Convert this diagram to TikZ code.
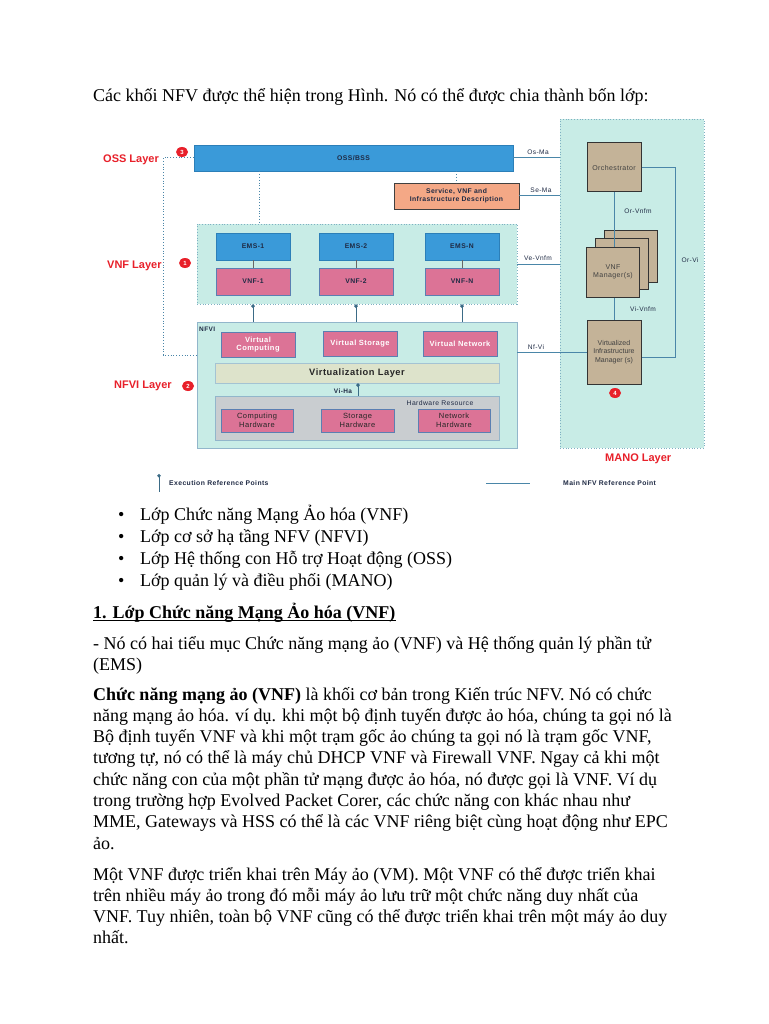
\documentclass[tikz,border=0pt]{standalone}
\usepackage{fontspec}
\setmainfont{Liberation Serif}
\newfontfamily\dsans{Liberation Sans}[LetterSpace=6]
\newfontfamily\dsansn{Liberation Sans}
\usetikzlibrary{shapes.geometric,arrows.meta}
\definecolor{bxblue}{HTML}{3A9AD9}
\definecolor{bxblueb}{HTML}{2C7FB8}
\definecolor{bxpink}{HTML}{DC7396}
\definecolor{bxpinkb}{HTML}{5B7FB2}
\definecolor{lteal}{HTML}{C8ECE6}
\definecolor{ltealb}{HTML}{7FB0C2}
\definecolor{vlfill}{HTML}{DDE3CB}
\definecolor{hwfill}{HTML}{C9CDD0}
\definecolor{bxtan}{HTML}{C4B398}
\definecolor{svcfill}{HTML}{F4A886}
\definecolor{lnblue}{HTML}{4A86A8}
\definecolor{lred}{HTML}{E8202A}
\definecolor{dtxt}{HTML}{1F2A44}
\tikzset{
  box/.style={draw, line width=0.8pt, inner sep=1pt, align=center, text=dtxt,
    font=\dsans\fontsize{6.5}{7.5}\selectfont},
  emsbox/.style={box, fill=bxblue, draw=bxblueb, font=\dsans\bfseries\fontsize{6.8}{7.5}\selectfont},
  vnfbox/.style={box, fill=bxpink, draw=bxpinkb, font=\dsans\bfseries\fontsize{6.8}{7.5}\selectfont},
  vresbox/.style={box, fill=bxpink, draw=bxpinkb, text=white, font=\dsans\bfseries\fontsize{7.5}{8.5}\selectfont},
  hwbox/.style={box, fill=bxpink, draw=bxpinkb, text=black!85, font=\dsans\fontsize{7.5}{8.5}\selectfont},
  tanbox/.style={box, fill=bxtan, draw=black!80, line width=1pt, text=black!75, font=\dsans\fontsize{7}{8.5}\selectfont},
  layerlbl/.style={text=lred, inner sep=0, anchor=west, font=\dsansn\bfseries\fontsize{11}{12}\selectfont},
  badge/.style={ellipse, fill=lred, text=white, inner sep=0, minimum width=12pt, minimum height=10pt,
    font=\dsansn\bfseries\fontsize{6}{6}\selectfont},
  ifl/.style={draw=lnblue, line width=1pt},
  thinl/.style={draw=black!60, line width=0.6pt},
  refl/.style={inner sep=0, text=dtxt, font=\dsans\fontsize{6.6}{7.5}\selectfont},
  legl/.style={inner sep=0, anchor=west, text=dtxt, font=\dsans\bfseries\fontsize{6.8}{7.5}\selectfont},
  dotl/.style={draw=lnblue, dash pattern=on 1pt off 1.8pt, line width=1pt},
  execl/.style={draw=lnblue!80!black, line width=1pt, {Circle[length=3.5pt]}-},
  body/.style={inner sep=0, anchor=base west, font=\fontsize{18}{21}\selectfont},
}
\begin{document}
\begin{tikzpicture}[x=1pt,y=-1pt]
\useasboundingbox[fill=white] (0,0) rectangle (768,1024);

% ---------- body text ----------
\node[body] (t1) at (93,102) {Các khối NFV được thể hiện trong Hình. Nó có thể được chia thành bốn lớp:};
\node[body] (b1) at (118,520) {•};
\node[body] (l1) at (140,520) {Lớp Chức năng Mạng Ảo hóa (VNF)};
\node[body] (b2) at (118,542) {•};
\node[body] (l2) at (140,542) {Lớp cơ sở hạ tầng NFV (NFVI)};
\node[body] (b3) at (118,564) {•};
\node[body] (l3) at (140,564) {Lớp Hệ thống con Hỗ trợ Hoạt động (OSS)};
\node[body] (b4) at (118,586) {•};
\node[body] (l4) at (140,586) {Lớp quản lý và điều phối (MANO)};
\node[body, font=\bfseries\fontsize{18}{21}\selectfont] (hd) at (93,618) {1. Lớp Chức năng Mạng Ảo hóa (VNF)};
\draw[line width=0.9pt] ([yshift=-2.2pt]hd.base west) -- ([yshift=-2.2pt]hd.base east);
\node[body] (p1) at (93,649) {- Nó có hai tiểu mục Chức năng mạng ảo (VNF) và Hệ thống quản lý phần tử};
\node[body] (p2) at (93,670) {(EMS)};
\node[body] (p3) at (93,700) {\textbf{Chức năng mạng ảo (VNF)} là khối cơ bản trong Kiến trúc NFV. Nó có chức};
\node[body] (p4) at (93,721.3) {năng mạng ảo hóa. ví dụ. khi một bộ định tuyến được ảo hóa, chúng ta gọi nó là};
\node[body] (p5) at (93,742.6) {Bộ định tuyến VNF và khi một trạm gốc ảo chúng ta gọi nó là trạm gốc VNF,};
\node[body] (p6) at (93,763.9) {tương tự, nó có thể là máy chủ DHCP VNF và Firewall VNF. Ngay cả khi một};
\node[body] (p7) at (93,785.2) {chức năng con của một phần tử mạng được ảo hóa, nó được gọi là VNF. Ví dụ};
\node[body] (p8) at (93,806.5) {trong trường hợp Evolved Packet Corer, các chức năng con khác nhau như};
\node[body] (p9) at (93,827.8) {MME, Gateways và HSS có thể là các VNF riêng biệt cùng hoạt động như EPC};
\node[body] (p10) at (93,849.1) {ảo.};
\node[body] (q1) at (93,880) {Một VNF được triển khai trên Máy ảo (VM). Một VNF có thể được triển khai};
\node[body] (q2) at (93,901.3) {trên nhiều máy ảo trong đó mỗi máy ảo lưu trữ một chức năng duy nhất của};
\node[body] (q3) at (93,922.6) {VNF. Tuy nhiên, toàn bộ VNF cũng có thể được triển khai trên một máy ảo duy};
\node[body] (q4) at (93,943.9) {nhất.};

% ---------- diagram: containers ----------
\node[draw=ltealb, fill=lteal, dash pattern=on 1pt off 1.8pt, line width=0.8pt, minimum width=144pt, minimum height=329pt, inner sep=0] (mano) at (632,283.5) {};
\node[draw=ltealb, fill=lteal, dash pattern=on 1pt off 1.8pt, line width=0.8pt, minimum width=320pt, minimum height=80pt, inner sep=0] (vnfl) at (357,264) {};
\node[draw=lnblue!60, fill=lteal, line width=0.8pt, minimum width=320pt, minimum height=126pt, inner sep=0] (nfvi) at (357,385) {};

% OSS / service
\node[emsbox, minimum width=319pt, minimum height=26pt] (oss) at (353.5,158) {OSS/BSS};
\node[box, fill=svcfill, draw=black!75, minimum width=125pt, minimum height=26pt, font=\dsans\bfseries\fontsize{6.8}{8}\selectfont] (svc) at (456.5,196) {Service, VNF and\\Infrastructure Description};

% VNF layer
\node[emsbox, minimum width=74pt, minimum height=27pt] (ems1) at (253,246.5) {EMS-1};
\node[emsbox, minimum width=74pt, minimum height=27pt] (ems2) at (356,246.5) {EMS-2};
\node[emsbox, minimum width=74pt, minimum height=27pt] (emsn) at (462,246.5) {EMS-N};
\node[vnfbox, minimum width=74pt, minimum height=27pt] (vnf1) at (253,281.5) {VNF-1};
\node[vnfbox, minimum width=74pt, minimum height=27pt] (vnf2) at (356,281.5) {VNF-2};
\node[vnfbox, minimum width=74pt, minimum height=27pt] (vnfn) at (462,281.5) {VNF-N};

% NFVI
\node[refl, anchor=west, font=\dsans\bfseries\fontsize{6.5}{7}\selectfont] (nfvilbl) at (199,329) {NFVI};
\node[vresbox, minimum width=74pt, minimum height=25pt] (vc) at (258,344.5) {Virtual\\Computing};
\node[vresbox, minimum width=74pt, minimum height=25pt] (vs) at (360,344) {Virtual Storage};
\node[vresbox, minimum width=74pt, minimum height=25pt] (vn) at (460,344) {Virtual Network};
\node[box, fill=vlfill, draw=lnblue!50, minimum width=284pt, minimum height=20pt, font=\dsans\bfseries\fontsize{9.3}{11}\selectfont, text=black!85] (vl) at (357,373) {Virtualization Layer};
\node[box, fill=hwfill, draw=lnblue!60, minimum width=284pt, minimum height=44pt] (hw) at (357,418) {};
\node[refl, font=\dsans\fontsize{6.8}{7.5}\selectfont] (hwlbl) at (440,403) {Hardware Resource};
\node[hwbox, minimum width=72pt, minimum height=23pt] (ch) at (257,420.5) {Computing\\Hardware};
\node[hwbox, minimum width=73pt, minimum height=23pt] (sh) at (357.5,420.5) {Storage\\Hardware};
\node[hwbox, minimum width=72pt, minimum height=23pt] (nh) at (454,420.5) {Network\\Hardware};

% MANO
\node[tanbox, minimum width=54pt, minimum height=49pt] (orch) at (614,167.5) {Orchestrator};
\node[tanbox, minimum width=53pt, minimum height=51pt] (vnfmc) at (630.5,256.5) {};
\node[tanbox, minimum width=53pt, minimum height=51pt] (vnfmb) at (621.5,263.5) {};
\node[tanbox, minimum width=53pt, minimum height=50pt] (vnfm) at (613,272) {VNF\\Manager(s)};
\node[tanbox, minimum width=54pt, minimum height=64pt, font=\dsansn\fontsize{7}{8.5}\selectfont] (vim) at (614,352) {Virtualized\\Infrastructure\\Manager (s)};

% layer labels and badges
\node[layerlbl] (ossl) at (103,160) {OSS Layer};
\node[layerlbl] (vnfll) at (107,266) {VNF Layer};
\node[layerlbl] (nfvil) at (114,386) {NFVI Layer};
\node[layerlbl] (manol) at (605,459) {MANO Layer};
\node[badge] (bd3) at (182,152) {3};
\node[badge] (bd1) at (185,263) {1};
\node[badge] (bd2) at (188,386) {2};
\node[badge] (bd4) at (615,393) {4};

% ---------- connectors ----------
\draw[dotl] (oss.west) -- (163,158) -- (163,355) -- (nfvi.west |- 0,355);
\draw[dotl] (oss.south -| 259,0) -- (vnfl.north -| 259,0);
\draw[dotl] (svc.north |- oss.south) -- (svc.north);
\draw[thinl] (ems1.south) -- (vnf1.north);
\draw[thinl] (ems2.south) -- (vnf2.north);
\draw[thinl] (emsn.south) -- (vnfn.north);
\draw[execl] (vnf1 |- vnfl.south) -- (vnf1 |- nfvi.north);
\draw[execl] (vnf2 |- vnfl.south) -- (vnf2 |- nfvi.north);
\draw[execl] (vnfn |- vnfl.south) -- (vnfn |- nfvi.north);
\draw[execl] (vl.south -| 358,0) -- (hw.north -| 358,0);
\node[refl, font=\dsans\bfseries\fontsize{6.5}{7}\selectfont] (viha) at (343,391) {Vi-Ha};
\draw[ifl] (oss.east) -- (mano.west |- oss.east);
\node[refl] (osma) at (538,152.5) {Os-Ma};
\draw[ifl] (svc.east) -- (mano.west |- svc.east);
\node[refl] (sema) at (541,190.5) {Se-Ma};
\draw[ifl] (vnfl.east) -- (mano.west |- vnfl.east);
\node[refl] (vevnfm) at (538,258) {Ve-Vnfm};
\draw[ifl] (nfvi.east |- 0,352) -- (vim.west |- 0,352);
\node[refl] (nfvi2) at (536,347.5) {Nf-Vi};
\draw[ifl] (orch.south) -- (orch.south |- vnfm.north);
\node[refl] (orvnfm) at (638,211) {Or-Vnfm};
\draw[ifl] (vim.north |- vnfm.south) -- (vim.north);
\node[refl] (vivnfm) at (643,309) {Vi-Vnfm};
\draw[ifl] (orch.east) -- (675,167.5) -- (675,357) -- (vim.east |- 0,357);
\node[refl] (orvi) at (690,260) {Or-Vi};

% legend
\coordinate (le1) at (159,474);
\coordinate (le2) at (159,492);
\draw[execl] (le1) -- (le2);
\node[legl] (lgt1) at (169,483) {Execution Reference Points};
\coordinate (lm1) at (486,483);
\coordinate (lm2) at (530,483);
\draw[ifl] (lm1) -- (lm2);
\node[legl] (lgt2) at (563,483) {Main NFV Reference Point};
\end{tikzpicture}
\end{document}
